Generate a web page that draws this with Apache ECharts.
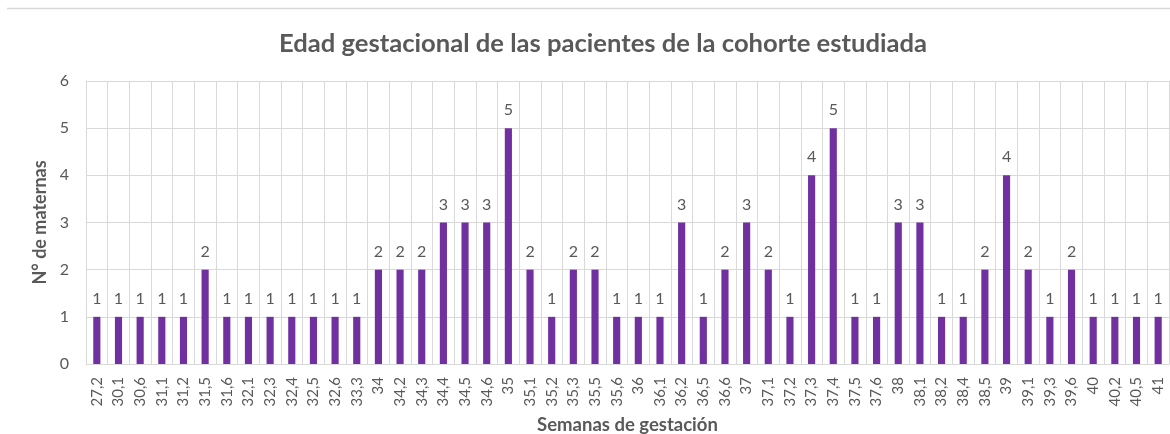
<!DOCTYPE html>
<html>
<head>
<meta charset="utf-8">
<script src="https://cdn.jsdelivr.net/npm/echarts@6/dist/echarts.min.js"></script>
<style>
  html, body { margin: 0; padding: 0; background: #fff; }
  #chart { width: 1170px; height: 434px; }
</style>
</head>
<body>
<div id="chart"></div>
<script>
const semanas = ['27,2', '30,1', '30,6', '31,1', '31,2', '31,5', '31,6', '32,1', '32,3', '32,4',
  '32,5', '32,6', '33,3', '34', '34,2', '34,3', '34,4', '34,5', '34,6', '35',
  '35,1', '35,2', '35,3', '35,5', '35,6', '36', '36,1', '36,2', '36,5', '36,6',
  '37', '37,1', '37,2', '37,3', '37,4', '37,5', '37,6', '38', '38,1', '38,2',
  '38,4', '38,5', '39', '39,1', '39,3', '39,6', '40', '40,2', '40,5', '41'];
const maternas = [1, 1, 1, 1, 1, 2, 1, 1, 1, 1,
  1, 1, 1, 2, 2, 2, 3, 3, 3, 5,
  2, 1, 2, 2, 1, 1, 1, 3, 1, 2,
  3, 2, 1, 4, 5, 1, 1, 3, 3, 1,
  1, 2, 4, 2, 1, 2, 1, 1, 1, 1];
const yTicks = [0, 1, 2, 3, 4, 5, 6];

const textColor = '#595959';
const gridColor = '#d9d9d9';
const font = 'Lato, "Open Sans", sans-serif';

const myChart = echarts.init(document.getElementById('chart'));
const option = {
  animation: false,
  textStyle: { fontFamily: font },
  title: {
    text: 'Edad gestacional de las pacientes de la cohorte estudiada',
    left: 598,
    textAlign: 'center',
    top: 26,
    textStyle: { color: textColor, fontSize: 25.6, fontWeight: 'bold', fontFamily: font }
  },
  graphic: [{
    type: 'line',
    shape: { x1: 7, y1: 8.5, x2: 1170, y2: 8.5 },
    style: { stroke: gridColor, lineWidth: 1.5 }
  }],
  grid: { left: 86, right: 1, top: 81, bottom: 70, outerBoundsMode: 'none' },
  xAxis: {
    type: 'category',
    data: semanas,
    name: 'Semanas de gestación',
    nameLocation: 'middle',
    nameGap: 52,
    nameTextStyle: { color: textColor, fontSize: 18.5, fontWeight: 'bold' },
    axisLine: { lineStyle: { color: gridColor } },
    axisTick: { show: false },
    axisLabel: { rotate: 90, interval: 0, color: textColor, fontSize: 15, margin: 13 },
    splitLine: { show: true, interval: 0, lineStyle: { color: gridColor } }
  },
  yAxis: {
    type: 'value',
    min: yTicks[0],
    max: yTicks[yTicks.length - 1],
    interval: 1,
    name: 'N° de maternas',
    nameLocation: 'middle',
    nameGap: 33,
    nameTextStyle: { color: textColor, fontSize: 18, fontWeight: 'bold' },
    axisLine: { show: true, lineStyle: { color: gridColor } },
    axisTick: { show: false },
    axisLabel: { color: textColor, fontSize: 16, margin: 17 },
    splitLine: { lineStyle: { color: gridColor } }
  },
  series: [{
    name: 'N° de maternas',
    type: 'bar',
    data: maternas,
    barWidth: '33%',
    itemStyle: { color: '#7030a0' },
    label: {
      show: true,
      position: 'top',
      distance: 10,
      color: textColor,
      fontSize: 16
    }
  }]
};
myChart.setOption(option);
</script>
</body>
</html>
